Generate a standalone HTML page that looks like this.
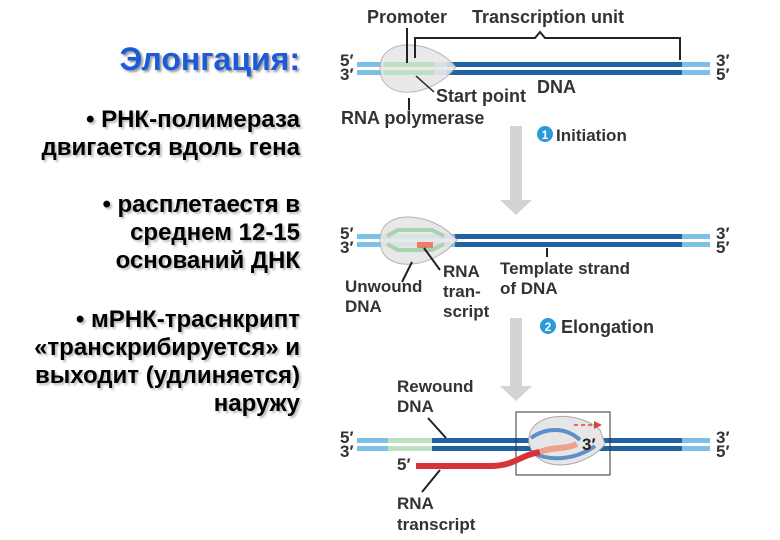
<!DOCTYPE html>
<html><head><meta charset="utf-8"><style>
body{margin:0;width:780px;height:540px;background:#fff;overflow:hidden;position:relative;font-family:"Liberation Sans",sans-serif}
.l{position:absolute;right:480px;text-align:right;font-weight:bold;font-size:24px;line-height:28px;color:#000;text-shadow:2px 2px 2px #bbb;white-space:nowrap}
</style></head><body>
<div class="l" style="top:42px;font-size:32px;line-height:34px;color:#1c5ad8;text-shadow:2px 2px 2px #999">Элонгация:</div>
<div class="l" style="top:106px">• РНК-полимераза<br>двигается вдоль гена</div>
<div class="l" style="top:191px">• расплетаестя в<br>среднем 12-15<br>оснований ДНК</div>
<div class="l" style="top:306px">• мРНК-траснкрипт <br>«транскрибируется» и<br>выходит (удлиняется)<br>наружу </div>
<svg width="780" height="540" style="position:absolute;left:0;top:0" font-family="Liberation Sans,sans-serif" font-weight="bold">
<g fill="#d3d3d3"><rect x="510" y="126" width="12" height="76"/><polygon points="500,200 532,200 516,215"/>
<rect x="510" y="318" width="12" height="70"/><polygon points="500,386 532,386 516,401"/></g>
<g>
<rect x="357" y="62" width="353" height="5" fill="#7cc0e8"/><rect x="357" y="70" width="353" height="5" fill="#7cc0e8"/>
<rect x="447" y="62" width="235" height="5" fill="#1f63a4"/><rect x="447" y="70" width="235" height="5" fill="#1f63a4"/>
<path d="M380,70 C378,36 432,38 456,67 C432,98 382,102 380,70Z" fill="#e6e6e6" stroke="#aaa" opacity="0.85"/>
<rect x="384" y="62" width="50" height="5" fill="#bde0c4"/><rect x="384" y="70" width="50" height="5" fill="#bde0c4"/>
<path d="M415,58 V38 H535 L540,32 L545,38 H680 V60" fill="none" stroke="#222" stroke-width="2"/>
<line x1="407" y1="28" x2="407" y2="63" stroke="#222" stroke-width="2"/>
<line x1="409" y1="98" x2="409" y2="110" stroke="#222" stroke-width="2"/>
<line x1="416" y1="76" x2="434" y2="92" stroke="#222" stroke-width="1.5"/>
<g font-size="18" fill="#333"><text x="367" y="23">Promoter</text><text x="472" y="23">Transcription unit</text>
<text x="537" y="93">DNA</text><text x="436" y="102">Start point</text><text x="341" y="124">RNA polymerase</text></g>
</g>
<g font-size="17" fill="#333"><text x="340" y="66">5′</text><text x="340" y="80">3′</text><text x="716" y="66">3′</text><text x="716" y="80">5′</text>
<text x="340" y="239">5′</text><text x="340" y="253">3′</text><text x="716" y="239">3′</text><text x="716" y="253">5′</text>
<text x="340" y="443">5′</text><text x="340" y="457">3′</text><text x="716" y="443">3′</text><text x="716" y="457">5′</text></g>
<circle cx="545" cy="134" r="8" fill="#2a9ad8"/><text x="545" y="139" font-size="12" fill="#fff" text-anchor="middle">1</text>
<text x="556" y="141" font-size="17" fill="#333">Initiation</text>
<circle cx="548" cy="326" r="8" fill="#2a9ad8"/><text x="548" y="331" font-size="12" fill="#fff" text-anchor="middle">2</text>
<text x="561" y="333" font-size="18" fill="#333">Elongation</text>
<rect x="357" y="234" width="353" height="5" fill="#7cc0e8"/><rect x="357" y="242" width="353" height="5" fill="#7cc0e8"/>
<rect x="455" y="234" width="227" height="5" fill="#1f63a4"/><rect x="455" y="242" width="227" height="5" fill="#1f63a4"/>
<path d="M380,242 C378,208 432,210 457,240 C432,270 382,274 380,242Z" fill="#e6e6e6" stroke="#aaa" opacity="0.9"/>
<path d="M387,236 L398,230 H432 L444,236" fill="none" stroke="#a8d2b2" stroke-width="4"/>
<path d="M387,244 L398,250 H432 L444,244" fill="none" stroke="#a8d2b2" stroke-width="4"/>
<rect x="417" y="242" width="16" height="6" fill="#e88068"/>
<line x1="412" y1="262" x2="402" y2="282" stroke="#222" stroke-width="2"/>
<line x1="424" y1="248" x2="440" y2="270" stroke="#222" stroke-width="2"/>
<line x1="547" y1="248" x2="547" y2="257" stroke="#222" stroke-width="2"/>
<g font-size="17" fill="#333"><text x="345" y="292">Unwound</text><text x="345" y="312">DNA</text>
<text x="443" y="277">RNA</text><text x="443" y="297">tran-</text><text x="443" y="317">script</text>
<text x="500" y="274">Template strand</text><text x="500" y="294">of DNA</text></g>
<rect x="357" y="438" width="353" height="5" fill="#7cc0e8"/><rect x="357" y="446" width="353" height="5" fill="#7cc0e8"/>
<rect x="432" y="438" width="250" height="5" fill="#1f63a4"/><rect x="432" y="446" width="250" height="5" fill="#1f63a4"/>
<rect x="388" y="438" width="44" height="5" fill="#bde0c4"/><rect x="388" y="446" width="44" height="5" fill="#bde0c4"/>
<rect x="516" y="412" width="94" height="63" fill="none" stroke="#333"/>
<path d="M529,444 C525,410 580,410 600,430 L605,444 C590,465 540,478 529,444Z" fill="#e6e6e6" stroke="#aaa"/>
<path d="M531,438 C545,428 565,426 580,440" fill="none" stroke="#5f8fc8" stroke-width="4"/>
<path d="M531,452 C550,462 575,460 595,446" fill="none" stroke="#5f8fc8" stroke-width="4"/>
<path d="M416,466 H490 C515,466 520,455 540,452" fill="none" stroke="#d8323a" stroke-width="6"/>
<path d="M540,452 C555,446 565,450 577,444" fill="none" stroke="#eea28e" stroke-width="6"/>
<line x1="574" y1="425" x2="595" y2="425" stroke="#e04040" stroke-width="1.5" stroke-dasharray="4,3"/><polygon points="594,421 602,425 594,429" fill="#e04040"/>
<line x1="428" y1="418" x2="446" y2="438" stroke="#222" stroke-width="2"/>
<line x1="440" y1="470" x2="422" y2="492" stroke="#222" stroke-width="2"/>
<g font-size="17" fill="#333"><text x="397" y="392">Rewound</text><text x="397" y="412">DNA</text>
<text x="397" y="470">5′</text><text x="582" y="450" fill="#222">3′</text>
<text x="397" y="509">RNA</text><text x="397" y="530">transcript</text></g>
</svg>
</body></html>
